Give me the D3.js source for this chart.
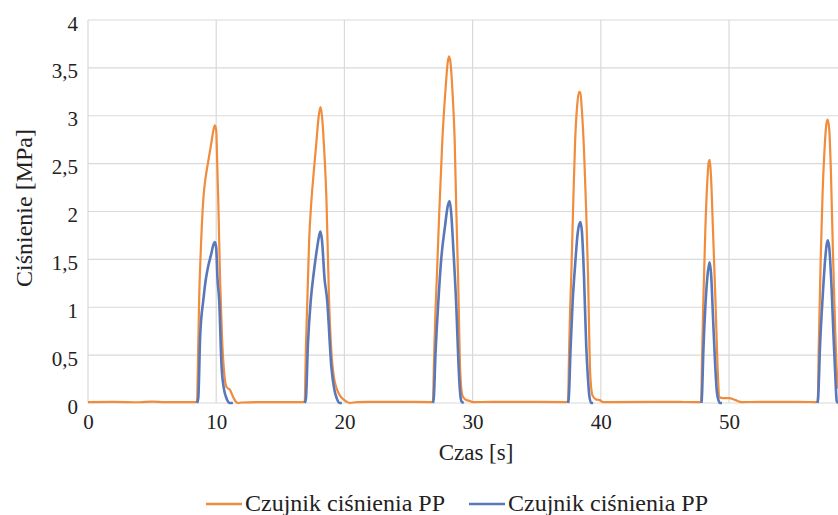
<!DOCTYPE html>
<html>
<head>
<meta charset="utf-8">
<script src="https://cdn.jsdelivr.net/npm/d3@7"></script>
<style>
  body { margin: 0; background: #fff; }
  svg { display: block; }
  .grid line { stroke: #d9d9d9; stroke-width: 1.2; }
</style>
</head>
<body>
<div id="chart"></div>
<script>
// axis ticks
var yTicks = [0, 0.5, 1, 1.5, 2, 2.5, 3, 3.5, 4];
var xTicks = [0, 10, 20, 30, 40, 50];

// series 1 (orange) - time [s] and pressure [MPa]
var orangeT = [0, 2, 4, 5, 6, 8.4,
  8.5, 8.6, 8.67, 8.8, 8.99, 9.2, 9.35, 9.6, 9.8, 9.9, 10.0, 10.08, 10.16, 10.3, 10.45, 10.6, 10.8, 10.95, 11.07, 11.2, 11.4, 11.7, 12, 14, 16.8,
  16.9, 17.0, 17.11, 17.25, 17.43, 17.6, 17.8, 18.0, 18.13, 18.25, 18.4, 18.6, 18.8, 19.0, 19.17, 19.4, 19.64, 20.0, 20.4, 21, 24, 26.8,
  26.9, 27.0, 27.1, 27.22, 27.4, 27.64, 27.9, 28.05, 28.16, 28.28, 28.45, 28.6, 28.73, 28.86, 29.04, 29.2, 29.4, 29.8, 30, 33, 37.3,
  37.44, 37.52, 37.6, 37.7, 37.85, 38.0, 38.15, 38.3, 38.4, 38.55, 38.7, 38.86, 39.0, 39.17, 39.35, 39.6, 39.9, 40.2, 44, 47.7,
  47.82, 47.9, 48.0, 48.15, 48.3, 48.42, 48.5, 48.6, 48.75, 48.94, 49.1, 49.26, 49.5, 50.0, 50.5, 51.0, 54, 56.8,
  56.92, 57.0, 57.15, 57.3, 57.45, 57.6, 57.7, 57.82, 57.95, 58.1, 58.25, 58.4, 58.5];
var orangeP = [0.01, 0.012, 0.008, 0.015, 0.01, 0.01,
  0.02, 0.6, 1.08, 1.6, 2.12, 2.38, 2.5, 2.7, 2.86, 2.9, 2.85, 2.5, 2.12, 1.3, 0.7, 0.35, 0.17, 0.15, 0.14, 0.1, 0.04, 0.0, 0.005, 0.01, 0.01,
  0.02, 0.6, 1.08, 1.7, 2.12, 2.4, 2.7, 3.0, 3.09, 3.0, 2.7, 2.12, 1.08, 0.5, 0.28, 0.15, 0.08, 0.03, 0.0, 0.01, 0.012, 0.01,
  0.02, 0.5, 0.95, 1.35, 2.0, 2.75, 3.3, 3.55, 3.62, 3.55, 3.2, 2.75, 2.0, 1.35, 0.31, 0.08, 0.04, 0.02, 0.01, 0.012, 0.01,
  0.02, 0.5, 0.95, 1.35, 2.1, 2.75, 3.1, 3.25, 3.24, 3.0, 2.6, 2.0, 1.35, 0.31, 0.08, 0.04, 0.03, 0.01, 0.012, 0.01,
  0.02, 0.5, 1.08, 1.8, 2.3, 2.52, 2.54, 2.35, 1.8, 1.08, 0.4, 0.06, 0.05, 0.05, 0.03, 0.01, 0.012, 0.01,
  0.02, 0.6, 1.5, 2.2, 2.65, 2.92, 2.96, 2.85, 2.4, 1.6, 0.9, 0.35, 0.15];

// series 2 (blue) - only around the pulses, null = gap
var blueT = [8.5, 8.6, 8.75, 9.0, 9.2, 9.38, 9.6, 9.8, 9.9, 10.0, 10.1, 10.23, 10.42, 10.6, 10.8, 11.07, 11.3, 11.4,
  16.9, 17.0, 17.15, 17.38, 17.6, 17.85, 18.05, 18.13, 18.25, 18.45, 18.65, 18.98, 19.2, 19.4, 19.64, 19.8, 19.9,
  26.9, 26.97, 27.1, 27.3, 27.55, 27.85, 28.05, 28.2, 28.32, 28.5, 28.73, 28.9, 29.0, 29.12, 29.3, 29.4,
  37.45, 37.5, 37.65, 37.8, 38.0, 38.2, 38.4, 38.52, 38.68, 38.86, 39.0, 39.1, 39.25, 39.4, 39.5,
  47.85, 47.88, 48.0, 48.15, 48.3, 48.48, 48.6, 48.75, 48.9, 49.05, 49.2, 49.3, 49.45, 49.5,
  56.9, 56.95, 57.1, 57.3, 57.5, 57.7, 57.82, 58.0, 58.15, 58.3, 58.4, 58.5];
var blueP = [0, 0.05, 0.7, 1.08, 1.3, 1.43, 1.55, 1.66, 1.68, 1.62, 1.3, 1.08, 0.38, 0.15, 0.05, 0, 0, null,
  0, 0.05, 0.6, 1.08, 1.35, 1.6, 1.76, 1.79, 1.7, 1.3, 1.08, 0.38, 0.15, 0.05, 0, 0, null,
  0, 0.05, 0.5, 1.0, 1.5, 1.85, 2.05, 2.11, 2.0, 1.6, 1.0, 0.4, 0.15, 0.02, 0, null,
  0, 0.05, 0.6, 1.05, 1.45, 1.78, 1.89, 1.8, 1.35, 0.6, 0.25, 0.08, 0, 0, null,
  0, 0.05, 0.55, 1.0, 1.3, 1.47, 1.35, 0.9, 0.45, 0.12, 0.02, 0, 0, null,
  0, 0.05, 0.6, 1.1, 1.5, 1.7, 1.62, 1.2, 0.7, 0.25, 0.02, 0];

var legendLabels = ["Czujnik ciśnienia PP", "Czujnik ciśnienia PP"];
var colors = ["#f08c3c", "#5878ba"];
var serif = "'Liberation Serif', 'Times New Roman', serif";

var W = 838, H = 515;
var margin = { top: 20, right: 0, bottom: 112, left: 88 };
var width = W - margin.left - margin.right,
    height = H - margin.top - margin.bottom;

var pl = d3.formatLocale({ decimal: ",", thousands: " ", grouping: [3], currency: ["", " zł"] });
var fmt = pl.format("~g");

var svg = d3.select("#chart").append("svg")
    .attr("width", W)
    .attr("height", H)
    .attr("font-family", serif);

var g = svg.append("g")
    .attr("transform", "translate(" + margin.left + "," + margin.top + ")");

var x = d3.scaleLinear().domain([0, 58.5]).range([0, width]);
var y = d3.scaleLinear().domain([0, 4]).range([height, 0]);

// grid lines
var grid = g.append("g").attr("class", "grid");
grid.selectAll(".h").data(yTicks).enter().append("line")
    .attr("x1", 0).attr("x2", width)
    .attr("y1", function (d) { return y(d); })
    .attr("y2", function (d) { return y(d); });
grid.selectAll(".v").data(xTicks).enter().append("line")
    .attr("x1", function (d) { return x(d); })
    .attr("x2", function (d) { return x(d); })
    .attr("y1", 0).attr("y2", height);

// axes (labels only)
var yAxis = d3.axisLeft(y).tickValues(yTicks).tickSize(0).tickPadding(10).tickFormat(fmt);
var gy = g.append("g").call(yAxis)
    .attr("font-family", serif).attr("font-size", 21);
gy.select(".domain").remove();
gy.selectAll("text").attr("dy", "0.48em").attr("fill", "#222");

var xAxis = d3.axisBottom(x).tickValues(xTicks).tickSize(0).tickPadding(11).tickFormat(fmt);
var gx = g.append("g").attr("transform", "translate(0," + height + ")").call(xAxis)
    .attr("font-family", serif).attr("font-size", 21);
gx.select(".domain").remove();
gx.selectAll("text").attr("fill", "#222");

// lines
g.append("clipPath").attr("id", "clip")
  .append("rect").attr("x", 0).attr("y", -5).attr("width", width).attr("height", height + 10);

var line = d3.line()
    .defined(function (d) { return d[1] != null; })
    .x(function (d) { return x(d[0]); })
    .y(function (d) { return y(d[1]); })
    .curve(d3.curveMonotoneX);

var orangeData = orangeT.map(function (t, i) { return [t, orangeP[i]]; });
var blueData = blueT.map(function (t, i) { return [t, blueP[i]]; });

var lines = g.append("g").attr("clip-path", "url(#clip)");
lines.append("path")
    .datum(orangeData)
    .attr("fill", "none")
    .attr("stroke", colors[0])
    .attr("stroke-width", 2.2)
    .attr("stroke-linejoin", "round")
    .attr("d", line);
lines.append("path")
    .datum(blueData)
    .attr("fill", "none")
    .attr("stroke", colors[1])
    .attr("stroke-width", 2.6)
    .attr("stroke-linejoin", "round")
    .attr("d", line);

// axis titles
svg.append("text")
    .attr("x", 476).attr("y", 460)
    .attr("text-anchor", "middle")
    .attr("font-family", serif).attr("font-size", 23).attr("fill", "#222")
    .text("Czas [s]");
svg.append("text")
    .attr("transform", "translate(32,208) rotate(-90)")
    .attr("text-anchor", "middle")
    .attr("font-family", serif).attr("font-size", 24).attr("fill", "#222")
    .text("Ciśnienie [MPa]");

// legend
var legendX = [206, 469];
var lg = svg.selectAll(".legend").data(legendLabels).enter().append("g")
    .attr("transform", function (d, i) { return "translate(" + legendX[i] + ",504)"; });
lg.append("line")
    .attr("x1", 0).attr("x2", 36).attr("y1", 0).attr("y2", 0)
    .attr("stroke", function (d, i) { return colors[i]; })
    .attr("stroke-width", 2.5);
lg.append("text")
    .attr("x", 39).attr("y", 7)
    .attr("font-family", serif).attr("font-size", 24).attr("fill", "#222")
    .text(function (d) { return d; });
</script>
</body>
</html>
